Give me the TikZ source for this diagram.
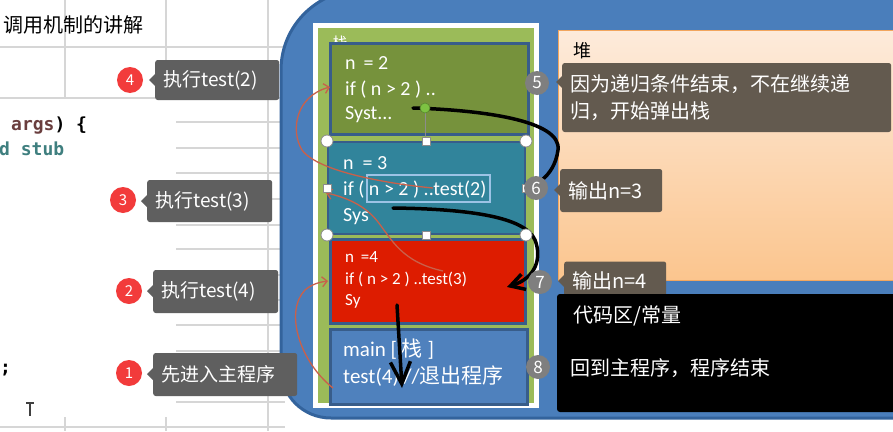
\documentclass[tikz,border=0pt]{standalone}
\usepackage{fontspec}
\setmainfont{Noto Sans CJK SC}
\newfontfamily\calf{Carlito}
\newfontfamily\cjkf{Noto Sans CJK SC}
\newfontfamily\monof{DejaVu Sans Mono}
\usetikzlibrary{arrows.meta}
\definecolor{gridc}{HTML}{D6D6D6}
\definecolor{bluebg}{HTML}{4A7EBB}
\definecolor{bluebd}{HTML}{33639C}
\definecolor{stackg}{HTML}{9BBB59}
\definecolor{oliveb}{HTML}{76923C}
\definecolor{tealb}{HTML}{31849B}
\definecolor{redb}{HTML}{DD1C00}
\definecolor{mainb}{HTML}{4F81BD}
\definecolor{boxbd}{HTML}{385D8A}
\definecolor{heapt}{HTML}{FDEBDB}
\definecolor{heapb}{HTML}{FBC58E}
\definecolor{heapbd}{HTML}{F2A65E}
\definecolor{callr}{HTML}{635A4F}
\definecolor{calll}{HTML}{5F5F5F}
\definecolor{redc}{HTML}{F23B3B}
\definecolor{grayc}{HTML}{7F7F7F}
\definecolor{redline}{HTML}{C9604A}
\definecolor{argc}{HTML}{6A3E3E}
\definecolor{stubc}{HTML}{3F7F7F}
\definecolor{handlebd}{HTML}{8C8C8C}
\definecolor{selc}{HTML}{9CC3E5}
\definecolor{rotg}{HTML}{7DC242}
\begin{document}
\begin{tikzpicture}[x=1pt,y=-1pt,
  gridline/.style={draw=gridc, line width=1.2pt},
  calloutL/.style={fill=calll, rounded corners=2.5pt, text=white, anchor=west, inner xsep=8pt, inner ysep=0pt, align=left, font=\fontsize{19}{23}\selectfont},
  calloutR/.style={calloutL, fill=callr, font=\fontsize{20}{27}\selectfont},
  rednum/.style={circle, fill=redc, minimum size=26pt, inner sep=0pt, text=white, font=\fontsize{15}{15}\selectfont},
  graynum/.style={circle, fill=grayc, minimum size=24pt, inner sep=0pt, text=white, font=\fontsize{17}{17}\selectfont},
  framebox/.style={draw=boxbd, line width=2.5pt, anchor=north west, inner sep=0pt},
  boxtxt/.style={anchor=base west, text=white, inner sep=0pt, font=\calf\fontsize{20}{20}\selectfont},
  smalltxt/.style={boxtxt, font=\calf\fontsize{17}{17}\selectfont},
  maintxt/.style={boxtxt, font=\calf\fontsize{21}{21}\selectfont},
  codetxt/.style={anchor=base west, inner sep=0pt, font=\monof\bfseries\fontsize{18}{18}\selectfont},
  handlec/.style={circle, draw=handlebd, fill=white, line width=0.8pt, minimum size=12pt, inner sep=0pt},
  handles/.style={rectangle, draw=handlebd, fill=white, line width=0.8pt, minimum size=8pt, inner sep=0pt},
  blackarrow/.style={line width=3.5pt, line cap=round, black},
  redarrow/.style={line width=1.3pt, redline, -{Straight Barb[length=5pt,width=10pt]}},
  plaintxt/.style={inner sep=0pt, anchor=west}
]
\useasboundingbox (0,0) rectangle (893,431);
\fill[white] (0,0) rectangle (893,431);
% spreadsheet grid
\draw[gridline] (0,47) -- (285,47);
\draw[gridline] (0,98) -- (285,98);
\draw[gridline] (0,427) -- (285,427);
\foreach \yy in {122,148,173,199,225,249,275,300,325,351,376,402}
  \draw[gridline] (176,\yy) -- (285,\yy);
\draw[gridline] (65,0) -- (65,98);
\draw[gridline] (166,0) -- (166,98);
\draw[gridline] (65,417) -- (65,431);
\draw[gridline] (166,417) -- (166,431);
\draw[gridline] (268,0) -- (268,431);
% title and code fragments
\node[plaintxt, font=\fontsize{20}{24}\selectfont] (title) at (3,25) {调用机制的讲解};
\node[codetxt] (args) at (11,130) {\textcolor{argc}{args}) \{};
\node[codetxt, text=stubc] (stub) at (-1,155) {d stub};
\node[codetxt] (semi) at (0,373) {;};
\draw[line width=1.3pt, black!75] (26,403) -- (34,403) (30,403) -- (30,416);
% blue background
\fill[bluebg] (900,-10) -- (361,-10) .. controls (317,-10) and (281,26) .. (281,70) -- (281,368) .. controls (281,396) and (303,418) .. (331,418) -- (900,418) -- cycle;
\draw[bluebd, line width=3pt] (900,-10) -- (361,-10) .. controls (317,-10) and (281,26) .. (281,70) -- (281,368) .. controls (281,396) and (303,418) .. (331,418) -- (900,418);
% stack frame
\draw[white, line width=5pt, fill=stackg] (315.5,25.5) rectangle (536.5,405.5);
\node[text=white, inner sep=0pt, font=\fontsize{15}{15}\selectfont] (stacklbl) at (340,43) {栈};
% stack frames
\node[framebox, fill=oliveb, minimum width=198pt, minimum height=91pt] (b1) at (329,42) {};
\node[framebox, fill=tealb, line width=2pt, minimum width=197pt, minimum height=92pt] (b2) at (327,141) {};
\node[framebox, fill=redb, minimum width=195pt, minimum height=84pt] (b3) at (329,238) {};
\node[framebox, fill=mainb, minimum width=197pt, minimum height=75pt] (b4) at (329,328) {};
\node[boxtxt] (t1a) at (345,69) {n \,= 2};
\node[boxtxt] (t1b) at (345,95) {if ( n > 2 ) ..};
\node[boxtxt] (t1c) at (345,119) {Syst...};
\node[boxtxt] (t2a) at (343,169) {n \ = 3};
\node[boxtxt] (t2b) at (343,195) {if ( n > 2 ) ..test(2)};
\node[boxtxt] (t2c) at (343,221) {Sys};
\node[smalltxt] (t3a) at (345,262) {n \,=4};
\node[smalltxt] (t3b) at (345,284) {if ( n > 2 ) ..test(3)};
\node[smalltxt] (t3c) at (345,305) {Sy};
\node[maintxt] (t4a) at (343,356) {main [ {\cjkf 栈} ]};
\node[maintxt] (t4b) at (343,383) {test(4) //{\cjkf 退出程序}};
% text box selection outline
\draw[selc, line width=1.2pt] (367,175) rectangle (490,202);
% heap and code area
\shade[top color=heapt, bottom color=heapb] (558,30) rectangle (893,280);
\draw[heapbd, line width=1pt] (893,30) -- (558,30) -- (558,280) -- (893,280);
\node[plaintxt, font=\fontsize{18}{18}\selectfont] (heap) at (573,51) {堆};
% callout 7 (partly hidden behind the code area)
\node[calloutR, minimum height=39pt, text width=86pt] (c7) at (564,281) {输出n=4};
\fill[callr] (564,275) -- (558,281) -- (564,287) -- cycle;
\fill[black, rounded corners=3pt] (557,294) rectangle (900,412);
\node[plaintxt, text=white, font=\fontsize{20}{24}\selectfont] (code) at (573,316) {代码区/常量};
\node[plaintxt, text=white, font=\fontsize{20}{24}\selectfont] (endtxt) at (570,368) {回到主程序，程序结束};
% right callouts
\node[calloutR, minimum height=69pt, text width=313pt] (c5) at (562,97.5) {因为递归条件结束，不在继续递\\归，开始弹出栈};
\fill[callr] (562,76) -- (556,82) -- (562,88) -- cycle;
\node[calloutR, minimum height=43pt, text width=86pt] (c6) at (560,190.5) {输出n=3};
\fill[callr] (560,184) -- (554,190) -- (560,196) -- cycle;
% left callouts
\node[calloutL, minimum height=40pt, text width=108pt] (c4) at (155,80) {执行test(2)};
\fill[calll] (155,74) -- (149,80) -- (155,86) -- cycle;
\node[calloutL, minimum height=42pt, text width=109pt] (c3) at (147,201) {执行test(3)};
\fill[calll] (147,195) -- (141,201) -- (147,207) -- cycle;
\node[calloutL, minimum height=43pt, text width=109pt] (c2) at (153,291.5) {执行test(4)};
\fill[calll] (153,285) -- (147,291) -- (153,297) -- cycle;
\node[calloutL, minimum height=43pt, text width=128pt] (c1) at (153,374.5) {先进入主程序};
\fill[calll] (153,368) -- (147,374) -- (153,380) -- cycle;
\node[rednum] (n4) at (130,80) {4};
\node[rednum] (n3) at (123,200) {3};
\node[rednum] (n2) at (129,291) {2};
\node[rednum] (n1) at (129,373) {1};
% red hand-drawn call arrows
\coordinate (r1s) at (333,388);
\coordinate (r1e) at (328,281);
\coordinate (r2s) at (443,271);
\coordinate (r2e) at (326,193);
\coordinate (r3s) at (433,188);
\coordinate (r3e) at (330,87);
\draw[redarrow] (r1s) .. controls (300,362) and (284,312) .. (305,290) .. controls (312,284) and (320,282) .. (r1e);
\draw[redarrow] (r2s) .. controls (402,262) and (392,240) .. (378,222) .. controls (365,205) and (345,197) .. (r2e);
\draw[redarrow] (r3s) .. controls (390,184) and (318,172) .. (302,150) .. controls (290,130) and (296,96) .. (r3e);
% black hand-drawn return arrows
\coordinate (ka) at (413,108);
\coordinate (kae) at (542,180);
\coordinate (kb) at (393,208);
\coordinate (kbe) at (507,287);
\coordinate (kc) at (397,305);
\coordinate (kce) at (402,388);
\draw[blackarrow] (ka) .. controls (480,110) and (562,120) .. (558,150) .. controls (556,165) and (549,174) .. (kae);
\draw[blackarrow, -{Straight Barb[length=14pt,width=16pt]}] (kb) .. controls (470,209) and (525,217) .. (535,240) .. controls (542,258) and (536,278) .. (kbe);
\draw[blackarrow, -{Straight Barb[length=22pt,width=20pt]}] (kc) -- (kce);
% selection handles on the n=3 frame and rotation handle
\draw[handlebd, line width=0.8pt] (425,112) -- (425,137);
\node[circle, fill=rotg, draw=rotg!70!black, line width=0.6pt, minimum size=10pt, inner sep=0pt] (rot) at (425,108) {};
\node[handlec] (h1) at (b2.north west) {};
\node[handlec] (h2) at (b2.north east) {};
\node[handlec] (h3) at (b2.south west) {};
\node[handlec] (h4) at (b2.south east) {};
\node[handles] (h5) at (b2.north) {};
\node[handles] (h6) at (b2.south) {};
\node[handles] (h7) at (b2.west) {};
\node[handles] (h8) at (b2.east) {};
% gray step numbers
\node[graynum] (g5) at (537,83) {5};
\node[graynum] (g6) at (536,188) {6};
\node[graynum] (g7) at (540,282) {7};
\node[graynum] (g8) at (538,367) {8};
\end{tikzpicture}
\end{document}
